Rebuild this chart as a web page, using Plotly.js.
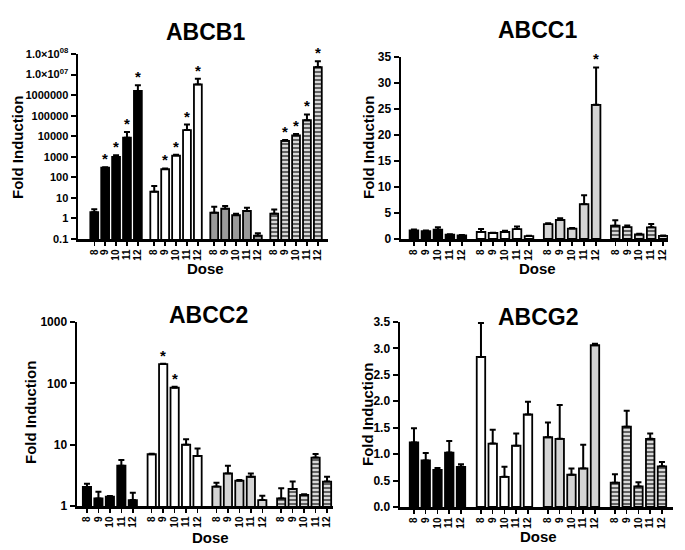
<!DOCTYPE html>
<html><head><meta charset="utf-8">
<script src="https://cdn.plot.ly/plotly-3.0.1.min.js"></script>
<style>html,body{margin:0;padding:0;background:#fff}#c{width:685px;height:550px}</style>
</head><body><div id="c"></div>
<script>
// ---- data ----
const doses = ["8","9","10","11","12"];
const panelNames = ["ABCB1","ABCC1","ABCC2","ABCG2"];

// each row = one treatment group (black, white, gray, striped), columns = doses 8..12
const ABCB1_mean = [[2,300,1000,8500,1.6e6],[20,250,1150,20000,3.3e6],[1.9,3,1.45,2.3,0.145],[1.7,6000,11000,60000,2.3e7]];
const ABCB1_err  = [[0.8,10,200,7500,1.4e6],[18,20,100,17000,3e6],[1.8,1,0.25,1,0.045],[1,500,2000,55000,2.1e7]];
const ABCB1_sig  = [[0,1,1,1,1],[0,1,1,1,1],[0,0,0,0,0],[0,1,1,1,1]];

const ABCC1_mean = [[1.66,1.5,1.8,0.83,0.7],[1.35,1.15,1.35,1.9,0.57],[2.87,3.65,2.0,6.7,25.8],[2.55,2.3,0.9,2.25,0.6]];
const ABCC1_err  = [[0.15,0.15,0.45,0.07,0.07],[0.55,0.05,0.25,0.5,0.05],[0.18,0.35,0.1,1.7,7.2],[1.05,0.3,0.1,0.65,0.05]];
const ABCC1_sig  = [[0,0,0,0,0],[0,0,0,0,0],[0,0,0,0,1],[0,0,0,0,0]];

const ABCC2_mean = [[2.04,1.33,1.42,4.55,1.25],[6.98,206,85,10,6.56],[2.07,3.4,2.59,3.0,1.25],[1.33,1.9,1.51,6.15,2.5]];
const ABCC2_err  = [[0.26,0.38,0.03,1.05,0.4],[0.12,2,3,2.3,2.1],[0.33,1.15,0.06,0.4,0.22],[0.61,0.6,0.04,0.92,0.5]];
const ABCC2_sig  = [[0,0,0,0,0],[0,1,1,0,0],[0,0,0,0,0],[0,0,0,0,0]];

const ABCG2_mean = [[1.22,0.88,0.70,1.03,0.76],[2.84,1.2,0.57,1.16,1.75],[1.32,1.29,0.61,0.73,3.06],[0.46,1.52,0.39,1.29,0.77]];
const ABCG2_err  = [[0.27,0.14,0.04,0.22,0.05],[0.64,0.26,0.19,0.23,0.24],[0.28,0.64,0.12,0.45,0.03],[0.16,0.3,0.08,0.1,0.08]];
const ABCG2_sig  = [[0,0,0,0,0],[0,0,0,0,0],[0,0,0,0,0],[0,0,0,0,0]];

const B1_ticks = [0.1,1,10,100,1000,10000,100000,1000000,1e7,1e8];
const B1_ticktext = ["0.1","1","10","100","1000","10000","100000","1000000","1.0×10<sup>07</sup>","1.0×10<sup>08</sup>"];
const C2_ticks = [1,10,100,1000];
const C2_ticktext = ["1","10","100","1000"];

// ---- layout / style ----
const W = 685, H = 550;
const FONT = "Arial, 'Liberation Sans', sans-serif";
const panels = [
  {name:"ABCB1", mean:ABCB1_mean, err:ABCB1_err, sig:ABCB1_sig, log:true, box:[78,328,54,239], G:5.5, xr:[-1.49,21.43], yr:[-1,8], tv:B1_ticks, tt:B1_ticktext, tfs:11, gray:"#9a9a9a",
   title:[205,32], ytitle:[18,148], xtitle:[205,268]},
  {name:"ABCC1", mean:ABCC1_mean, err:ABCC1_err, sig:ABCC1_sig, log:false, box:[401,668,57,239], G:5.6, xr:[-1.08,21.2], yr:[0,35], dtick:5, tfs:12, gray:"#d4d4d4",
   title:[537,30], ytitle:[369,148], xtitle:[537,268]},
  {name:"ABCC2", mean:ABCC2_mean, err:ABCC2_err, sig:ABCC2_sig, log:true, box:[77,333,322,506], G:5.65, xr:[-0.87,21.47], yr:[0,3], tv:C2_ticks, tt:C2_ticktext, tfs:12, gray:"#d4d4d4",
   title:[208,315], ytitle:[30,413], xtitle:[210,537]},
  {name:"ABCG2", mean:ABCG2_mean, err:ABCG2_err, sig:ABCG2_sig, log:false, box:[400,673,322,507], G:5.7, xr:[-1.19,22.04], yr:[0,3.5], dtick:0.5, fmt:".1f", tfs:12, gray:"#d4d4d4",
   title:[538,317], ytitle:[367,415], xtitle:[538,536]}
];

const traces = [];
const annotations = [];
const layout = {width:W, height:H, margin:{l:0,r:0,t:0,b:0}, paper_bgcolor:"#fff", plot_bgcolor:"rgba(0,0,0,0)",
  showlegend:false, bargap:0, font:{family:FONT, color:"#000"}, annotations:annotations};

panels.forEach((p, pi) => {
  const xa = pi===0 ? "x" : "x"+(pi+1);
  const ya = pi===0 ? "y" : "y"+(pi+1);
  const tickvals = [], ticktext = [];
  p.mean.forEach((row, g) => {
    const xs = row.map((v,i) => g*p.G + i);
    xs.forEach((x,i)=>{tickvals.push(x); ticktext.push(doses[i]);});
    const marker = {line:{color:"#000", width:1.8}};
    if (g===0) marker.color = "#000";
    else if (g===1) marker.color = "#fff";
    else if (g===2) marker.color = p.gray;
    else { marker.color = "#d8d8d8"; marker.pattern = {shape:"-", fgcolor:"#555", bgcolor:"#d8d8d8", size:4, solidity:0.45}; }
    traces.push({type:"bar", x:xs, y:row, xaxis:xa, yaxis:ya, width:0.72, marker:marker,
      error_y:{type:"data", symmetric:false, array:p.err[g], arrayminus:row.map(()=>0), color:"#000", thickness:2, width:3},
      hoverinfo:"skip"});
    row.forEach((v,i) => {
      if (p.sig[g][i]) {
        const top = v + p.err[g][i];
        annotations.push({xref:xa, yref:ya, x:xs[i], y:p.log?Math.log10(top):top, text:"*", showarrow:false,
          yanchor:"bottom", yshift:-2, font:{size:15, family:FONT, weight:"bold"}});
      }
    });
  });
  const [x0,x1,y0,y1] = p.box;
  layout["xaxis"+(pi===0?"":pi+1)] = {domain:[x0/W, x1/W], anchor:ya, range:p.xr, showgrid:false, zeroline:false,
    showline:true, linewidth:2.5, linecolor:"#000", ticks:"outside", ticklen:4, tickwidth:1.5, tickcolor:"#000",
    tickmode:"array", tickvals:tickvals, ticktext:ticktext, tickangle:-90, tickfont:{size:10, family:FONT, weight:"bold"}, fixedrange:true};
  const yax = {domain:[1-y1/H, 1-y0/H], anchor:xa, range:p.yr, showgrid:false, zeroline:false,
    showline:true, linewidth:2.5, linecolor:"#000", ticks:"outside", ticklen:5, tickwidth:2, tickcolor:"#000",
    tickfont:{size:p.tfs, family:FONT, weight:"bold"}, fixedrange:true};
  if (p.log) { yax.type = "log"; yax.tickmode = "array"; yax.tickvals = p.tv; yax.ticktext = p.tt; }
  else { yax.dtick = p.dtick; yax.tick0 = 0; if (p.fmt) yax.tickformat = p.fmt; }
  layout["yaxis"+(pi===0?"":pi+1)] = yax;
  annotations.push({xref:"paper", yref:"paper", x:p.title[0]/W, y:1-p.title[1]/H, text:p.name, showarrow:false,
    xanchor:"center", yanchor:"middle", font:{size:23, family:FONT, weight:"bold"}});
  annotations.push({xref:"paper", yref:"paper", x:p.ytitle[0]/W, y:1-p.ytitle[1]/H, text:"Fold Induction", showarrow:false,
    textangle:-90, xanchor:"center", yanchor:"middle", font:{size:15, family:FONT, weight:"bold"}});
  annotations.push({xref:"paper", yref:"paper", x:p.xtitle[0]/W, y:1-p.xtitle[1]/H, text:"Dose", showarrow:false,
    xanchor:"center", yanchor:"middle", font:{size:15, family:FONT, weight:"bold"}});
});

Plotly.newPlot("c", traces, layout, {staticPlot:true});
</script></body></html>
